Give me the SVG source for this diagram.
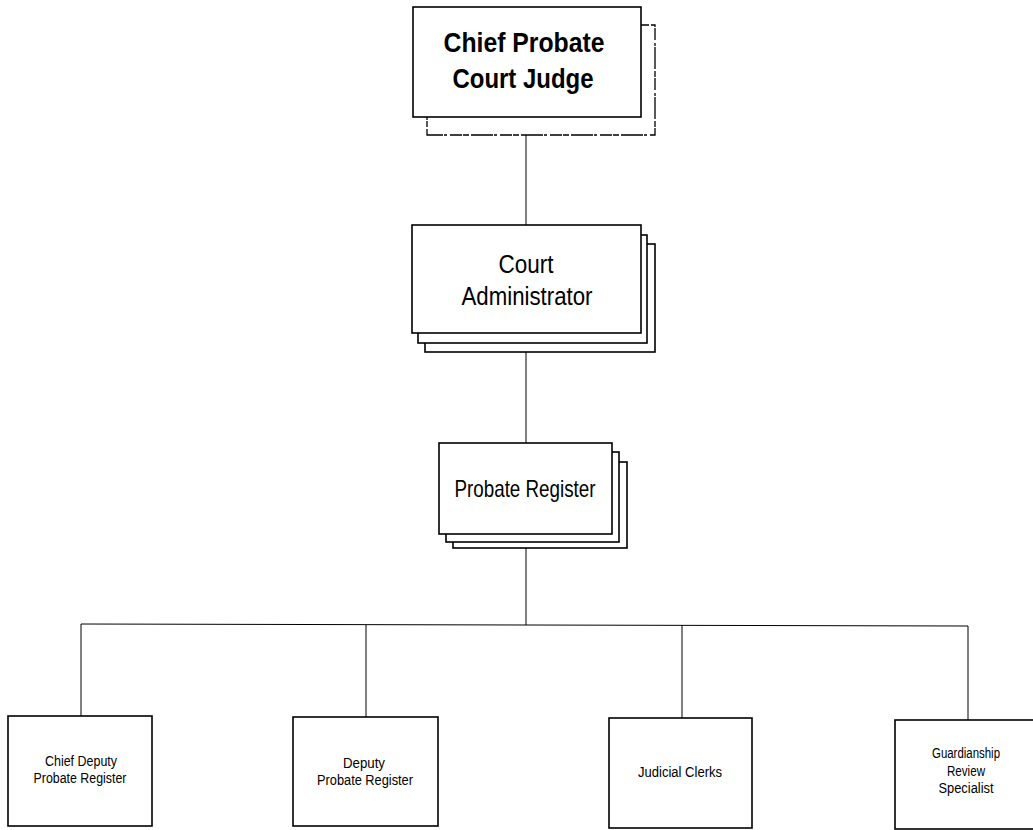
<svg xmlns="http://www.w3.org/2000/svg" width="1033" height="830" viewBox="0 0 1033 830">
<style>
.box{fill:#fff;stroke:#000;stroke-width:1.6}
.rough{fill:#fff;stroke:#000;stroke-width:1.3;stroke-dasharray:22 2 6 1 12 3 3 1}
.conn{stroke:#000;stroke-width:1;fill:none}
text{font-family:"Liberation Sans",Arial,sans-serif;fill:#000;text-anchor:middle}
.b{font-weight:bold;font-size:28px}
.m{font-size:26px}
.p{font-size:24px}
.s{font-size:14px}
</style>
<rect width="1033" height="830" fill="#fff"/>
<g id="connectors">
<line class="conn" x1="526" y1="117" x2="526" y2="225"/>
<line class="conn" x1="526" y1="333" x2="526" y2="443"/>
<line class="conn" x1="526" y1="534" x2="526" y2="625"/>
<polyline class="conn" points="81,716 81,624 968,626 968,720"/>
<line class="conn" x1="366" y1="625" x2="366" y2="717"/>
<line class="conn" x1="682" y1="625" x2="682" y2="718"/>
</g>
<g id="chief-judge">
<rect class="rough" x="427" y="25" width="228" height="110"/>
<rect class="box" x="413" y="7" width="228" height="110"/>
<text class="b" x="524" y="52" textLength="161" lengthAdjust="spacingAndGlyphs">Chief Probate</text>
<text class="b" x="523" y="88" textLength="141" lengthAdjust="spacingAndGlyphs">Court Judge</text>
</g>
<g id="court-administrator">
<rect class="box" x="425" y="244" width="230" height="108"/>
<rect class="box" x="418" y="235" width="229" height="108"/>
<rect class="box" x="412" y="225" width="229" height="108"/>
<text class="m" x="526" y="273" textLength="55" lengthAdjust="spacingAndGlyphs">Court</text>
<text class="m" x="527" y="305" textLength="131" lengthAdjust="spacingAndGlyphs">Administrator</text>
</g>
<g id="probate-register">
<rect class="box" x="453" y="462" width="174" height="86"/>
<rect class="box" x="446" y="452" width="173" height="90"/>
<rect class="box" x="439" y="443" width="173" height="91"/>
<text class="p" x="525" y="497" textLength="141" lengthAdjust="spacingAndGlyphs">Probate Register</text>
</g>
<g id="chief-deputy">
<rect class="box" x="8" y="716" width="144" height="110"/>
<text class="s" x="81" y="766" textLength="72" lengthAdjust="spacingAndGlyphs">Chief Deputy</text>
<text class="s" x="80" y="783" textLength="93" lengthAdjust="spacingAndGlyphs">Probate Register</text>
</g>
<g id="deputy">
<rect class="box" x="293" y="717" width="145" height="109"/>
<text class="s" x="364" y="768" textLength="42" lengthAdjust="spacingAndGlyphs">Deputy</text>
<text class="s" x="365" y="785" textLength="96" lengthAdjust="spacingAndGlyphs">Probate Register</text>
</g>
<g id="judicial-clerks">
<rect class="box" x="609" y="718" width="143" height="110"/>
<text class="s" x="680" y="777" textLength="84" lengthAdjust="spacingAndGlyphs">Judicial Clerks</text>
</g>
<g id="guardianship">
<rect class="box" x="895" y="720" width="140" height="109"/>
<text class="s" x="966" y="758" textLength="68" lengthAdjust="spacingAndGlyphs">Guardianship</text>
<text class="s" x="966" y="776" textLength="38" lengthAdjust="spacingAndGlyphs">Review</text>
<text class="s" x="966" y="793" textLength="55" lengthAdjust="spacingAndGlyphs">Specialist</text>
</g>
</svg>
